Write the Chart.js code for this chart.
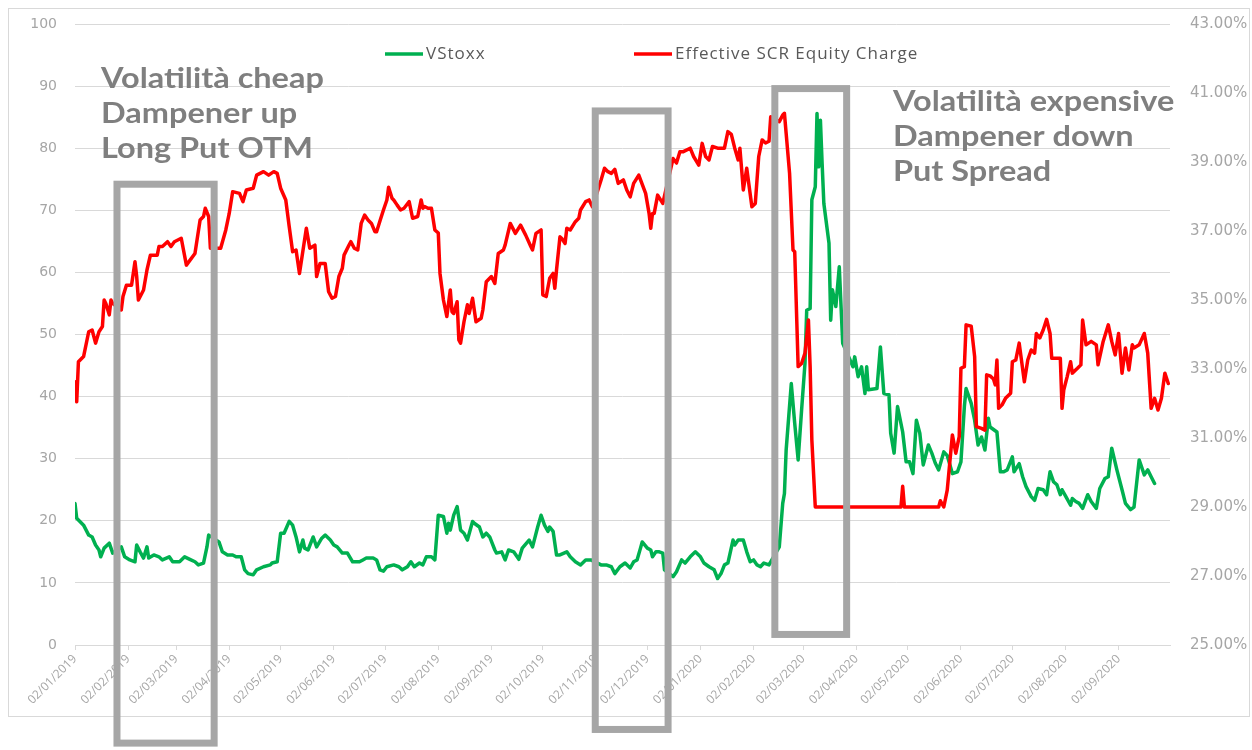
<!DOCTYPE html>
<html>
<head>
<meta charset="utf-8">
<script src="https://cdn.jsdelivr.net/npm/chart.js@4.4.0/dist/chart.umd.min.js"></script>
<style>
  html, body { margin: 0; padding: 0; background: #fff; }
</style>
</head>
<body>
<canvas id="chart" width="1252" height="750"></canvas>
<script>
// x values are days counted from 02/01/2019
var tickDays = [0, 31, 59, 90, 120, 151, 181, 212, 243, 273, 304, 334, 365, 396, 425, 456, 486, 517, 547, 578, 609];
var tickLabels = ['02/01/2019', '02/02/2019', '02/03/2019', '02/04/2019', '02/05/2019', '02/06/2019', '02/07/2019',
    '02/08/2019', '02/09/2019', '02/10/2019', '02/11/2019', '02/12/2019', '02/01/2020', '02/02/2020', '02/03/2020',
    '02/04/2020', '02/05/2020', '02/06/2020', '02/07/2020', '02/08/2020', '02/09/2020'];

var vstoxxDays = [0, 1, 5, 8, 10, 12, 14, 15, 17, 20, 22, 27, 29, 32, 35, 36, 38, 40, 42, 43, 46, 49, 51, 55, 57, 61, 64, 67, 70, 72,
    75, 77, 78, 84, 86, 89, 92, 94, 97, 99, 101, 104, 106, 110, 114, 115, 118, 120, 122, 125, 127, 129, 131, 133, 134, 136, 139, 141,
    144, 146, 149, 151, 153, 156, 159, 162, 166, 168, 170, 174, 176, 178, 180, 182, 186, 189, 191, 194, 196, 198, 201, 203, 205, 208,
    210, 212, 215, 217, 218, 219, 221, 223, 225, 227, 229, 232, 233, 236, 238, 240, 242, 245, 246, 249, 251, 253, 256, 259, 261, 265,
    267, 270, 272, 274, 276, 277, 279, 281, 283, 287, 289, 292, 295, 298, 301, 307, 310, 313, 315, 318, 321, 324, 326, 328, 330, 331,
    334, 336, 337, 339, 341, 343, 344, 349, 351, 354, 356, 359, 362, 365, 367, 370, 373, 375, 377, 379, 381, 384, 385, 387, 390, 392,
    394, 396, 398, 400, 402, 405, 411, 413, 414, 415, 418, 420, 422, 424, 426, 427, 429, 430, 432, 433, 434, 435, 436, 437, 440, 441,
    442, 444, 446, 448, 454, 455, 457, 459, 461, 462, 463, 468, 470, 472, 475, 476, 478, 480, 483, 485, 487, 489, 491, 493, 495, 498,
    500, 502, 504, 507, 509, 512, 515, 517, 519, 520, 523, 525, 527, 529, 531, 533, 534, 538, 540, 542, 544, 547, 548, 551, 553, 555,
    558, 560, 562, 565, 567, 569, 571, 573, 575, 576, 578, 581, 582, 584, 586, 588, 591, 593, 596, 598, 601, 603, 605, 608, 611, 613,
    616, 618, 621, 624, 626, 628, 630];
var vstoxx = [22.8, 20.4, 19.3, 17.7, 17.4, 16.1, 15.3, 14.2, 15.6, 16.4, 14.8, 15.8, 14.2, 13.7, 13.4, 16.1, 15.0, 14.0, 15.8, 14.0,
    14.5, 14.2, 13.7, 14.2, 13.4, 13.4, 14.2, 13.8, 13.4, 12.9, 13.2, 15.8, 17.7, 16.6, 15.0, 14.5, 14.5, 14.2, 14.2, 12.1, 11.5, 11.3,
    12.1, 12.6, 12.9, 13.2, 13.4, 18.0, 18.0, 19.9, 19.3, 17.4, 15.0, 16.9, 15.6, 15.3, 17.4, 15.8, 17.2, 17.7, 16.9, 16.1, 15.8, 14.8,
    14.8, 13.4, 13.4, 13.7, 14.0, 14.0, 13.7, 12.1, 11.9, 12.6, 12.9, 12.6, 12.1, 12.6, 13.4, 12.6, 13.2, 12.9, 14.2, 14.2, 13.7, 20.9,
    20.7, 18.0, 19.6, 18.5, 20.9, 22.3, 18.5, 18.0, 16.9, 19.9, 19.6, 19.0, 17.4, 18.0, 17.4, 15.3, 14.8, 15.0, 13.7, 15.3, 15.0, 13.8,
    15.6, 16.9, 15.8, 19.0, 20.9, 19.3, 18.3, 19.0, 18.3, 14.5, 14.5, 15.0, 14.2, 13.4, 12.9, 13.7, 13.7, 12.9, 12.9, 12.6, 11.5, 12.6,
    13.2, 12.4, 13.4, 13.7, 15.6, 16.6, 15.6, 15.3, 14.2, 15.0, 15.0, 14.8, 12.1, 11.0, 11.8, 13.7, 13.2, 14.2, 15.0, 14.2, 13.2, 12.6,
    12.1, 10.7, 11.5, 12.9, 13.2, 16.9, 16.1, 16.9, 16.9, 15.0, 13.4, 13.7, 12.9, 12.6, 13.2, 12.9, 15.8, 22.8, 24.4, 31.4, 42.1, 35.7,
    29.8, 37.8, 45.4, 53.9, 54.2, 71.7, 73.8, 85.6, 77.0, 84.5, 77.5, 71.1, 64.7, 52.3, 57.2, 54.5, 60.9, 48.6, 44.8, 46.4, 43.2, 44.8,
    40.5, 44.8, 41.1, 41.3, 48.0, 40.5, 40.3, 34.1, 30.9, 38.4, 34.3, 29.5, 29.5, 27.6, 36.2, 34.1, 29.0, 32.2, 30.9, 29.3, 28.2, 31.1,
    30.5, 27.6, 27.9, 29.5, 38.4, 41.3, 38.9, 36.2, 32.2, 33.5, 31.4, 36.5, 35.1, 34.3, 27.9, 27.9, 28.2, 30.3, 27.9, 29.2, 27.1, 25.5,
    23.9, 23.3, 25.2, 25.0, 24.2, 27.9, 26.3, 25.8, 24.2, 25.0, 24.0, 22.5, 23.6, 23.1, 22.8, 22.0, 24.2, 23.1, 22.0, 25.2, 26.8, 27.1,
    31.7, 28.2, 25.0, 22.8, 21.8, 22.2, 29.8, 27.4, 28.2, 27.1, 26.0];

var scrDays = [0, 1, 2, 5, 8, 10, 12, 14, 16, 17, 18, 20, 21, 22, 27, 28, 30, 33, 35, 36, 37, 40, 42, 44, 48, 49, 51, 54, 56, 58, 62,
    65, 70, 73, 75, 76, 78, 79, 85, 88, 90, 92, 96, 98, 100, 104, 106, 110, 113, 116, 118, 120, 123, 125, 127, 129, 131, 135, 137, 140,
    141, 143, 146, 148, 150, 152, 154, 156, 157, 160, 161, 163, 165, 167, 169, 171, 173, 175, 176, 178, 180, 182, 183, 185, 186, 188,
    190, 192, 195, 197, 200, 202, 203, 204, 206, 208, 210, 212, 213, 215, 217, 219, 220, 221, 223, 224, 225, 227, 229, 230, 232, 234,
    237, 238, 240, 243, 245, 247, 250, 251, 254, 257, 260, 263, 266, 267, 269, 272, 273, 275, 277, 279, 280, 281, 283, 284, 286, 287,
    289, 292, 294, 295, 298, 300, 302, 307, 309, 311, 313, 315, 317, 320, 322, 324, 326, 329, 333, 335, 336, 337, 338, 340, 343, 349,
    351, 353, 355, 359, 361, 364, 366, 368, 370, 372, 375, 379, 381, 383, 385, 387, 388, 390, 392, 395, 397, 399, 401, 403, 405, 406,
    411, 413, 414, 415, 417, 419, 420, 422, 424, 426, 428, 429, 430, 432, 482, 483, 484, 504, 505, 507, 509, 512, 514, 516, 517, 519,
    520, 523, 525, 526, 529, 531, 532, 534, 536, 537, 538, 539, 541, 543, 546, 547, 549, 551, 554, 556, 558, 560, 561, 563, 565, 567,
    569, 570, 575, 576, 577, 579, 581, 582, 585, 587, 588, 590, 593, 596, 597, 600, 603, 605, 607, 609, 611, 613, 615, 617, 618, 621,
    624, 626, 628, 630, 632, 634, 636, 638];
var scr = [32.63, 32.05, 33.21, 33.36, 34.08, 34.13, 33.75, 34.08, 34.23, 35.0, 34.9, 34.57, 35.0, 34.9, 34.71, 35.1, 35.43, 35.43,
    36.11, 35.68, 35.0, 35.29, 35.87, 36.3, 36.3, 36.55, 36.55, 36.69, 36.55, 36.69, 36.79, 36.01, 36.35, 37.32, 37.42, 37.66, 37.42,
    36.5, 36.5, 37.03, 37.51, 38.14, 38.09, 37.85, 38.19, 38.24, 38.62, 38.72, 38.62, 38.72, 38.67, 38.24, 37.9, 37.13, 36.4, 36.45,
    35.77, 37.08, 36.5, 36.59, 35.68, 36.06, 36.06, 35.24, 35.05, 35.1, 35.68, 35.92, 36.3, 36.6, 36.69, 36.5, 36.45, 37.22, 37.46,
    37.32, 37.22, 36.98, 36.98, 37.3, 37.61, 37.9, 38.27, 37.95, 37.9, 37.75, 37.61, 37.66, 37.85, 37.37, 37.42, 37.9, 37.66, 37.71,
    37.66, 37.66, 37.03, 36.94, 35.77, 35.0, 34.52, 35.29, 34.66, 34.61, 34.95, 33.84, 33.75, 34.37, 34.86, 34.61, 35.05, 34.37, 34.47,
    34.71, 35.53, 35.68, 35.48, 36.35, 36.45, 36.59, 37.22, 36.93, 37.17, 36.88, 36.55, 36.45, 36.93, 37.03, 35.15, 35.1, 35.63, 35.77,
    35.34, 35.87, 36.83, 36.79, 36.64, 37.08, 37.03, 37.27, 37.37, 37.61, 37.85, 37.9, 37.7, 38.48, 38.82, 38.72, 38.67, 38.79, 38.38,
    38.48, 38.19, 37.99, 38.38, 38.62, 38.09, 37.51, 37.08, 37.51, 37.51, 38.04, 37.8, 39.1, 38.97, 39.3, 39.3, 39.4, 39.16, 38.91,
    39.54, 39.16, 39.06, 39.45, 39.4, 39.4, 39.88, 39.8, 39.4, 39.06, 39.4, 38.19, 38.82, 37.7, 37.8, 39.16, 39.64, 39.55, 39.6, 40.31,
    40.17, 40.36, 40.41, 39.83, 38.67, 36.45, 36.4, 33.07, 33.16, 33.46, 34.42, 33.07, 30.94, 29.0, 29.0, 29.6, 29.0, 29.0, 29.18, 29.0,
    29.49, 31.09, 30.56, 31.04, 33.02, 33.07, 34.28, 34.24, 33.36, 31.33, 31.28, 31.23, 32.83, 32.8, 32.71, 32.54, 33.26, 31.86, 31.96,
    32.15, 32.3, 33.21, 33.26, 33.75, 32.63, 33.26, 33.55, 33.46, 34.03, 33.9, 34.13, 34.44, 34.03, 33.31, 33.31, 31.86, 32.39, 32.78,
    33.21, 32.88, 33.02, 33.12, 34.42, 33.7, 33.8, 33.7, 33.12, 33.8, 34.28, 33.8, 33.41, 34.03, 32.88, 33.61, 32.97, 33.7, 33.61, 33.7,
    34.03, 33.46, 31.86, 32.15, 31.81, 32.15, 32.88, 32.58];

// grey frames, in axis units: [dayFrom, dayTo, leftValueTop, leftValueBottom]
var frames = [[24.5, 81.2, 74.2, -15.8], [303.6, 346.1, 86.0, -13.6], [408.4, 450.3, 89.6, 1.7]];
var leftNote = ['Volatilità cheap', 'Dampener up', 'Long Put OTM'];
var rightNote = ['Volatilità expensive', 'Dampener down', 'Put Spread'];

function toPoints(days, vals) {
    return days.map(function(d, i) { return { x: d, y: vals[i] }; });
}

var tickColor = '#A6A6A6';
var gridColor = '#D9D9D9';

// keep the plot top where the layout padding puts it
function fixY(width) {
    return function(s) {
        s.width = width;
        s.paddingTop = 0;
        s.paddingBottom = 0;
    };
}

function note(c, lines, x, y) {
    c.save();
    c.translate(x, y);
    c.scale(1.12, 1);
    lines.forEach(function(t, i) { c.fillText(t, 0, i * 35); });
    c.restore();
}

var overlay = {
    id: 'overlay',
    beforeDraw: function(chart) {
        var c = chart.ctx;
        c.save();
        c.fillStyle = '#fff';
        c.fillRect(0, 0, chart.width, chart.height);
        c.strokeStyle = gridColor;
        c.lineWidth = 1;
        c.strokeRect(8.5, 8.5, 1241, 708);
        c.restore();
    },
    afterDraw: function(chart) {
        var c = chart.ctx;
        var xs = chart.scales.x, ys = chart.scales.y;
        c.save();

        // legend
        var items = [[385, 426, 0], [634, 675, 1]];
        c.font = '17px "Open Sans"';
        c.letterSpacing = '1px';
        c.textBaseline = 'middle';
        items.forEach(function(it) {
            var ds = chart.data.datasets[it[2]];
            c.strokeStyle = ds.borderColor;
            c.lineWidth = 3.5;
            c.beginPath();
            c.moveTo(it[0], 54);
            c.lineTo(it[1] - 3, 54);
            c.stroke();
            c.fillStyle = '#595959';
            c.fillText(ds.label, it[1], 54);
        });
        c.letterSpacing = '0px';

        // frames
        c.strokeStyle = '#A6A6A6';
        c.lineWidth = 7;
        frames.forEach(function(f) {
            var x0 = xs.getPixelForValue(f[0]), x1 = xs.getPixelForValue(f[1]);
            var y0 = ys.getPixelForValue(f[2]), y1 = ys.getPixelForValue(f[3]);
            c.strokeRect(x0, y0, x1 - x0, y1 - y0);
        });

        // notes
        c.fillStyle = '#7F7F7F';
        c.font = 'bold 29px Lato';
        c.textBaseline = 'alphabetic';
        note(c, leftNote, 101, 88);
        note(c, rightNote, 893, 111);
        c.restore();
    }
};

var ctx = document.getElementById('chart').getContext('2d');
var chart = new Chart(ctx, {
    type: 'line',
    data: {
        datasets: [{
            label: 'VStoxx',
            data: toPoints(vstoxxDays, vstoxx),
            borderColor: '#00B050',
            yAxisID: 'y',
            order: 1
        }, {
            label: 'Effective SCR Equity Charge',
            data: toPoints(scrDays, scr),
            borderColor: '#FF0000',
            yAxisID: 'y1',
            order: 0
        }]
    },
    options: {
        responsive: false,
        animation: false,
        layout: { padding: { top: 24, left: 0, right: 0, bottom: 0 } },
        elements: {
            point: { radius: 0 },
            line: { tension: 0, borderWidth: 3.5, borderJoinStyle: 'round', borderCapStyle: 'round' }
        },
        plugins: {
            legend: { display: false },
            tooltip: { enabled: false }
        },
        scales: {
            x: {
                type: 'linear',
                min: 0,
                max: 639,
                afterBuildTicks: function(s) {
                    s.ticks = tickDays.map(function(v) { return { value: v }; });
                },
                afterFit: function(s) { s.height = 105; },
                ticks: {
                    autoSkip: false,
                    maxRotation: 45,
                    minRotation: 45,
                    padding: 2,
                    color: tickColor,
                    font: { family: 'Open Sans', size: 12 },
                    callback: function(v) { return tickLabels[tickDays.indexOf(v)]; }
                },
                grid: { drawOnChartArea: false, drawTicks: true, tickLength: 5, color: gridColor },
                border: { display: true, color: gridColor }
            },
            y: {
                position: 'left',
                min: 0,
                max: 100,
                afterFit: fixY(75),
                ticks: { stepSize: 10, padding: 18, color: tickColor, font: { family: 'DejaVu Sans', size: 14 } },
                grid: { color: gridColor, drawTicks: false },
                border: { display: false }
            },
            y1: {
                position: 'right',
                min: 25,
                max: 43,
                afterFit: fixY(82),
                ticks: {
                    stepSize: 2,
                    padding: 20,
                    color: tickColor,
                    font: { family: 'DejaVu Sans', size: 15 },
                    callback: function(v) { return v.toFixed(2) + '%'; }
                },
                grid: { drawOnChartArea: false, drawTicks: false },
                border: { display: false }
            }
        }
    },
    plugins: [overlay]
});
</script>
</body>
</html>
